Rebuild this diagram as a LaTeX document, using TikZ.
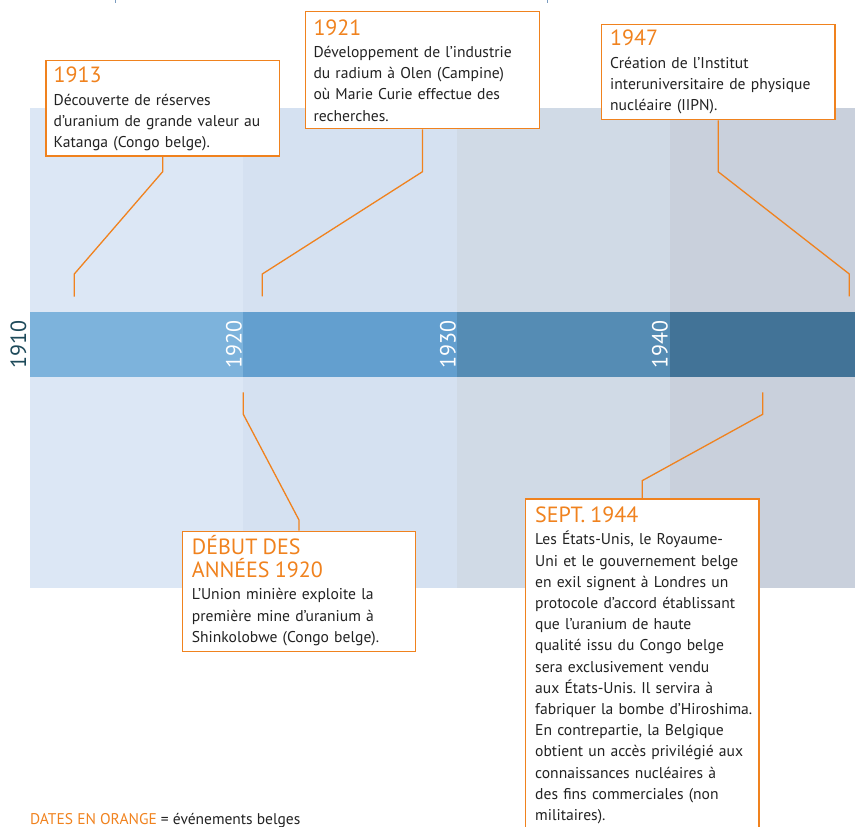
\documentclass[tikz,border=0pt]{standalone}
\usepackage{fontspec}
\setmainfont{PT Sans}
\definecolor{evorange}{HTML}{F0821E}
\definecolor{bodytext}{HTML}{222222}
\definecolor{decade}{HTML}{1E4A5A}
\definecolor{colA}{HTML}{DCE7F5}
\definecolor{colB}{HTML}{D5E1F1}
\definecolor{colC}{HTML}{D0DAE6}
\definecolor{colD}{HTML}{C9D0DC}
\definecolor{bandA}{HTML}{7DB3DC}
\definecolor{bandB}{HTML}{639FCF}
\definecolor{bandC}{HTML}{558CB4}
\definecolor{bandD}{HTML}{427397}
\definecolor{tickblue}{HTML}{7A9CC0}
\frenchspacing
\newcommand\bodyfont{\fontsize{15.6}{21.2}\selectfont}
\newcommand\yearfont{\fontsize{22}{24}\selectfont}
\newcommand\evtitle[1]{{\color{evorange}\fontsize{22}{23.3}\selectfont #1\par}\vskip1.3pt}
\begin{document}
\begin{tikzpicture}[x=1pt,y=-1pt,
  evline/.style={draw=evorange,line width=1.3pt},
  evbox/.style={draw=evorange,line width=1.3pt,fill=white,inner sep=0pt,anchor=north west},
  evtext/.style={anchor=base west,inner sep=0pt,text width=240pt,align=left,text=bodytext,font=\bodyfont},
  yearlab/.style={rotate=90,anchor=base,inner sep=0pt,font=\yearfont}]
\clip (0,0) rectangle (855,827);

% decade columns
\fill[colA] (30,108) rectangle (243,588);
\fill[colB] (243,108) rectangle (457,588);
\fill[colC] (457,108) rectangle (670,588);
\fill[colD] (670,108) rectangle (855,588);

% time band
\fill[bandA] (30,312) rectangle (243,377);
\fill[bandB] (243,312) rectangle (457,377);
\fill[bandC] (457,312) rectangle (670,377);
\fill[bandD] (670,312) rectangle (855,377);

% decade labels
\node[yearlab,text=decade] (y1910) at (26,344.5) {1910};
\node[yearlab,text=white] (y1920) at (241.5,344.5) {1920};
\node[yearlab,text=white] (y1930) at (455.5,344.5) {1930};
\node[yearlab,text=white] (y1940) at (667.5,344.5) {1940};

% small marks at the top edge
\draw[tickblue,line width=1pt] (115,0) -- (115,3);
\draw[tickblue,line width=1pt] (547.3,0) -- (547.3,3);

% connector levels and free ends
\coordinate (topknee) at (0,171.7);
\coordinate (toplow) at (0,274);
\coordinate (botknee) at (0,414.3);
\coordinate (kneeD) at (0,520);
\coordinate (kneeS) at (0,480.7);
\coordinate (e1913) at (74.3,296.7);
\coordinate (e1921) at (262.3,296.3);
\coordinate (e1947) at (849.3,296.3);
\coordinate (s1920) at (243.3,392.3);
\coordinate (s1944) at (762.7,392.3);

% event boxes
\node[evbox,minimum width=233.4pt,minimum height=95.3pt] (b1913) at (45.3,60) {};
\node[evbox,minimum width=233.7pt,minimum height=117pt] (b1921) at (305,11) {};
\node[evbox,minimum width=233.6pt,minimum height=95.3pt] (b1947) at (600.7,23.7) {};
\node[evbox,minimum width=233.3pt,minimum height=120pt] (bdebut) at (181.7,530.7) {};
\node[evbox,minimum width=233.6pt,minimum height=360pt] (b1944) at (524.7,498.3) {};

% connectors
\draw[evline] (b1913.south) -- (b1913.south |- topknee) -- (e1913 |- toplow) -- (e1913);
\draw[evline] (b1921.south) -- (b1921.south |- topknee) -- (e1921 |- toplow) -- (e1921);
\draw[evline] (b1947.south) -- (b1947.south |- topknee) -- (e1947 |- toplow) -- (e1947);
\draw[evline] (s1920) -- (s1920 |- botknee) -- (bdebut.north |- kneeD) -- (bdebut.north);
\draw[evline] (s1944) -- (s1944 |- botknee) -- (b1944.north |- kneeS) -- (b1944.north);

% event texts
\node[evtext] (t1913) at (53.5,82.7) {\evtitle{1913}Découverte de réserves\\ d’uranium de grande valeur au\\ Katanga (Congo belge).};
\node[evtext] (t1921) at (313.3,35) {\evtitle{1921}Développement de l’industrie\\ du radium à Olen (Campine)\\ où Marie Curie effectue des\\ recherches.};
\node[evtext] (t1947) at (610,45.7) {\evtitle{1947}Création de l’Institut\\ interuniversitaire de physique\\ nucléaire (IIPN).};
\node[evtext] (tdebut) at (191.7,554) {\evtitle{DÉBUT DES\\ ANNÉES 1920}L’Union minière exploite la\\ première mine d’uranium à\\ Shinkolobwe (Congo belge).};
\node[evtext] (t1944) at (535,522.3) {\evtitle{SEPT. 1944}Les États-Unis, le Royaume-\\ Uni et le gouvernement belge\\ en exil signent à Londres un\\ protocole d’accord établissant\\ que l’uranium de haute\\ qualité issu du Congo belge\\ sera exclusivement vendu\\ aux États-Unis. Il servira à\\ fabriquer la bombe d’Hiroshima.\\ En contrepartie, la Belgique\\ obtient un accès privilégié aux\\ connaissances nucléaires à\\ des fins commerciales (non\\ militaires).};

% legend
\node[anchor=base west,inner sep=0pt,text=bodytext,font=\fontsize{15.5}{18}\selectfont] (legend) at (30,824.3) {\textcolor{evorange}{DATES EN ORANGE} = événements belges};
\end{tikzpicture}
\end{document}
